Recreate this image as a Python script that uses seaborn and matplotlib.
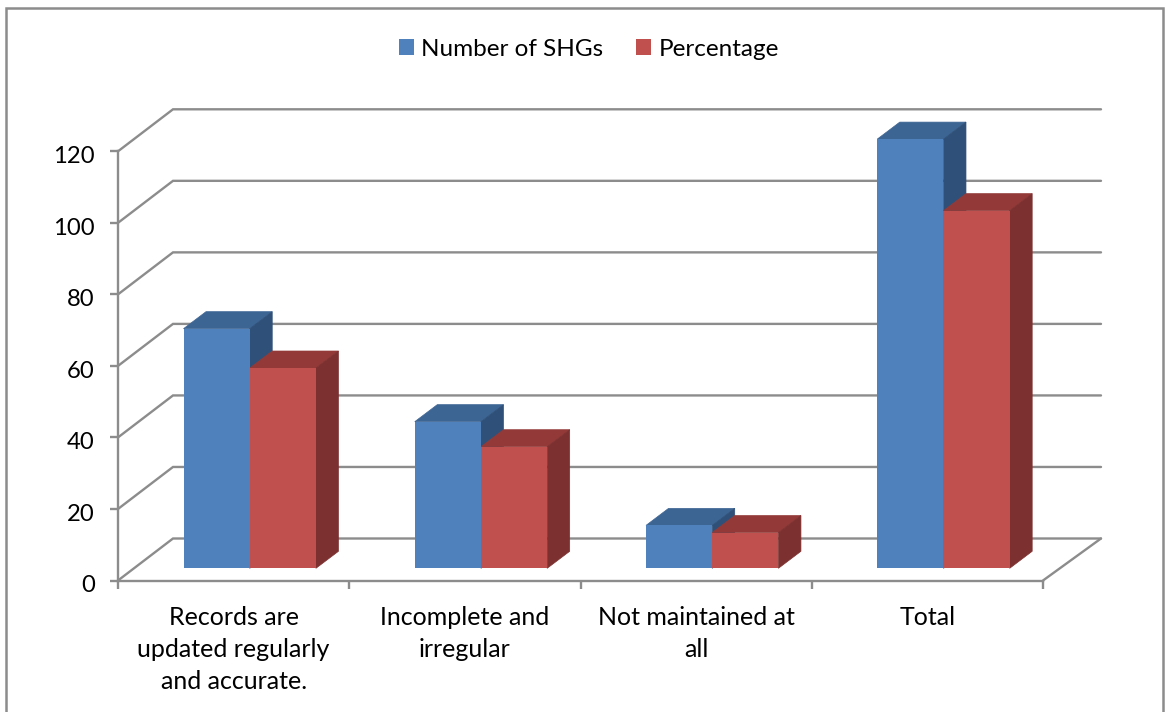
import matplotlib
matplotlib.use("Agg")
import matplotlib.pyplot as plt
import pandas as pd
import seaborn as sns
from matplotlib.patches import Polygon, Rectangle
from matplotlib.transforms import ScaledTranslation

categories = [
    "Records are\nupdated regularly\nand accurate.",
    "Incomplete and\nirregular",
    "Not maintained at\nall",
    "Total",
]
number_of_shgs = [67, 41, 12, 120]
percentage = [56, 34, 10, 100]
y_ticks = [0, 20, 40, 60, 80, 100, 120]

W, H = 1166, 712
LINE = "#8c8c8c"
FRONT = {"Number of SHGs": "#4f81bd", "Percentage": "#c0504d"}
TOP = ["#3d6594", "#933a38"]
SIDE = ["#2f5078", "#7c302f"]

sns.set_theme(style="white")
plt.rcParams["font.family"] = ["Lato", "DejaVu Sans"]
FS_VALUE = 17.2
FS_CATEGORY = 18.0
FS_LEGEND = 17.5

long = pd.DataFrame({
    "category": categories * 2,
    "series": ["Number of SHGs"] * 4 + ["Percentage"] * 4,
    "value": number_of_shgs + percentage,
})

def box(left, top, right, bottom):
    return [left / W, 1 - bottom / H, (right - left) / W, (bottom - top) / H]

fig = plt.figure(figsize=(W / 100, H / 100), dpi=100, facecolor="white")
fig.add_artist(Rectangle((6 / W, -0.1), (1163 - 6) / W, 1.1 - 8 / H,
                         transform=fig.transFigure, fill=False,
                         edgecolor=LINE, linewidth=1.8))

# Front plane: the value axis, the category axis and their labels
X0, X1, Y_TOP, Y_ZERO = 118, 1043, 151.3, 580.5
ax = fig.add_axes(box(X0, Y_TOP, X1, Y_ZERO))
ax.set_xlim(-0.5, 3.5)
ax.set_ylim(0, 120)
px_x = (X1 - X0) / 4
px_y = (Y_ZERO - Y_TOP) / 120

for s in ("top", "right"):
    ax.spines[s].set_visible(False)
for s in ("left", "bottom"):
    ax.spines[s].set_color(LINE)
    ax.spines[s].set_linewidth(1.7)
ax.set_yticks(y_ticks)
ax.set_xticks([-0.5, 0.5, 1.5, 2.5, 3.5])
ax.set_xticklabels([])
ax.set_xticks(range(4), categories, minor=True)
ax.tick_params(axis="y", which="major", left=True, length=5.8, width=1.7,
               color=LINE, labelsize=FS_VALUE, labelcolor="black", pad=11)
ax.tick_params(axis="x", which="major", bottom=True, length=5.8, width=1.7, color=LINE)
ax.tick_params(axis="x", which="minor", bottom=False, length=0, labelsize=FS_CATEGORY,
               labelcolor="black", pad=18.5)
for lab in ax.get_xticklabels(minor=True):
    lab.set_linespacing(1.48)
nudge_down = ScaledTranslation(0, -2.5 / 72, fig.dpi_scale_trans)
for lab in ax.get_yticklabels():
    lab.set_transform(lab.get_transform() + nudge_down)

# Back wall and floor lines, offset from the front plane by the chart depth
wall_left_dx, wall_right_dx, wall_dy = 55 / px_x, 58 / px_x, 42 / px_y
for v in y_ticks:
    ax.plot([-0.5, -0.5 + wall_left_dx, 3.5 + wall_right_dx], [v, v + wall_dy, v + wall_dy],
            color=LINE, lw=1.7, clip_on=False, zorder=1, solid_joinstyle="miter")
ax.plot([3.5, 3.5 + wall_right_dx], [0, wall_dy], color=LINE, lw=1.7, clip_on=False, zorder=1)

# Bars sit in their own transparent axes, shifted into the depth of the box
SHIFT_X, SHIFT_Y = 16.1, 12.2
ax_bars = fig.add_axes(box(X0 + SHIFT_X, Y_TOP - SHIFT_Y, X1 + SHIFT_X, Y_ZERO - SHIFT_Y))
ax_bars.patch.set_alpha(0)
sns.barplot(data=long, x="category", y="value", hue="series", palette=FRONT,
            hue_order=list(FRONT), width=66.2 * 2 / px_x, saturation=1,
            linewidth=0, ax=ax_bars, clip_on=False, zorder=5)
ax_bars.set_xlim(-0.5, 3.5)
ax_bars.set_ylim(0, 120)
ax_bars.axis("off")

# Extrude every bar with a top face and a side face
bar_dx, bar_dy = 22.5 / px_x, 17 / px_y
for i, container in enumerate(ax_bars.containers):
    for bar in container:
        l, w, h = bar.get_x(), bar.get_width(), bar.get_height()
        r = l + w
        ax_bars.add_patch(Polygon([(l, h), (r, h), (r + bar_dx, h + bar_dy), (l + bar_dx, h + bar_dy)],
                                  facecolor=TOP[i], edgecolor=TOP[i], linewidth=0.5,
                                  clip_on=False, zorder=2 + i))
        ax_bars.add_patch(Polygon([(r, 0), (r + bar_dx, bar_dy), (r + bar_dx, h + bar_dy), (r, h)],
                                  facecolor=SIDE[i], edgecolor=SIDE[i], linewidth=0.5,
                                  clip_on=False, zorder=2 + i))

handles, labels = ax_bars.get_legend_handles_labels()
ax_bars.legend_.remove()
fig.legend(handles, labels, ncols=2, frameon=False, fontsize=FS_LEGEND, loc="center",
           bbox_to_anchor=(589 / W, 1 - 49 / H), handlelength=0.62, handleheight=0.62,
           handletextpad=0.29, columnspacing=1.36, borderpad=0, labelcolor="black")

fig.savefig("out.png", dpi=100)
